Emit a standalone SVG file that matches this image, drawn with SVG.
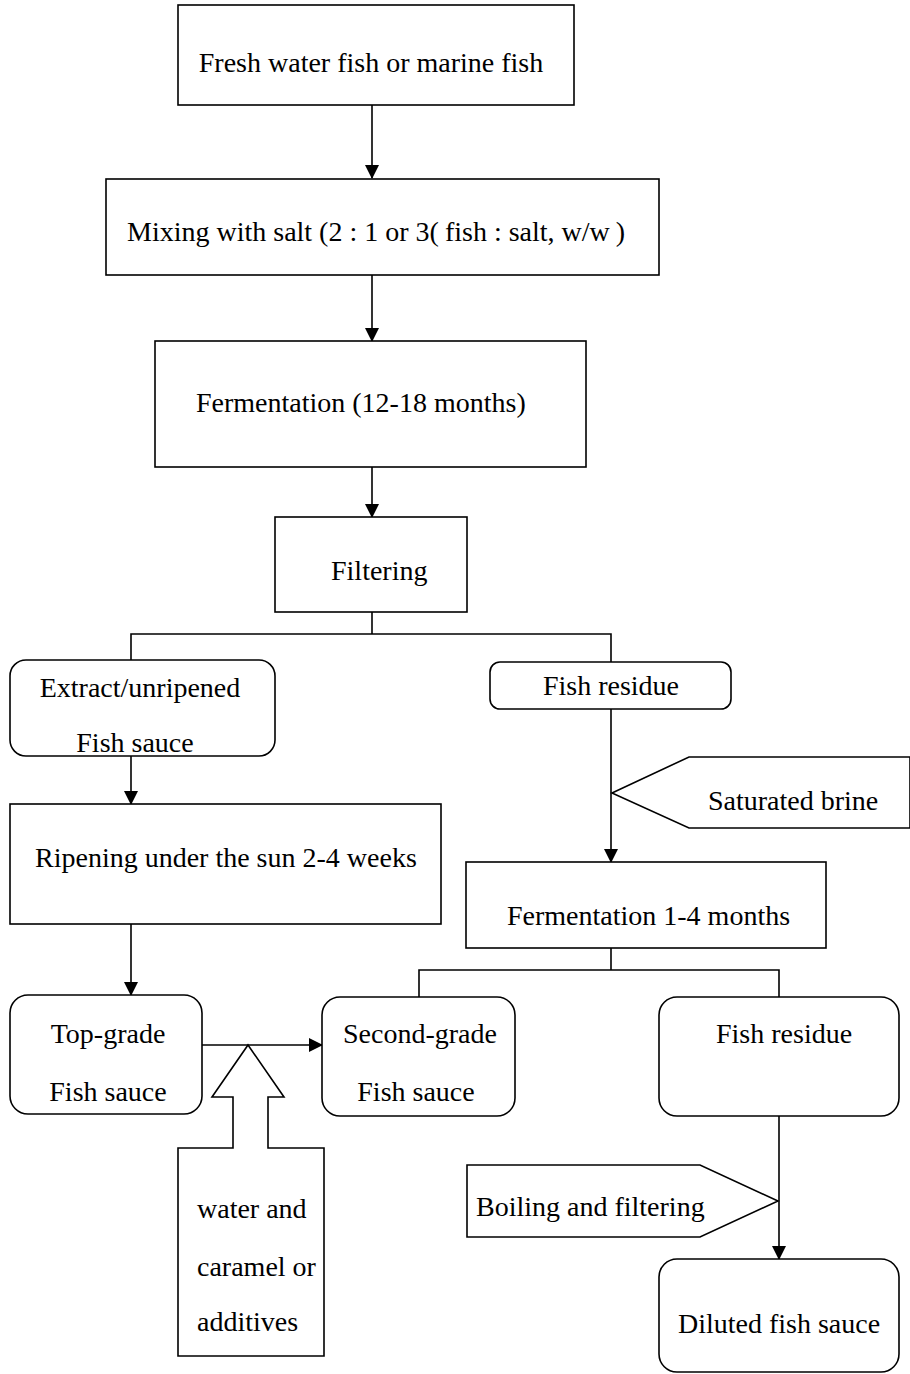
<svg xmlns="http://www.w3.org/2000/svg" width="910" height="1374" viewBox="0 0 910 1374">
<defs>
<marker id="ah" markerWidth="14" markerHeight="14" refX="13" refY="7" orient="auto" markerUnits="userSpaceOnUse">
<path d="M0,0 L14,7 L0,14 Z" fill="#000"/>
</marker>
</defs>
<style>
.b{fill:#fff;stroke:#000;stroke-width:1.6}
.c{fill:none;stroke:#000;stroke-width:1.6}
.m{text-anchor:middle}
</style>
<rect width="910" height="1374" fill="#fff"/>
<g id="connectors">
<line class="c" x1="372" y1="105" x2="372" y2="178" marker-end="url(#ah)"/>
<line class="c" x1="372" y1="275" x2="372" y2="341" marker-end="url(#ah)"/>
<line class="c" x1="372" y1="467" x2="372" y2="517" marker-end="url(#ah)"/>
<polyline class="c" points="372,612 372,634"/>
<polyline class="c" points="131,660 131,634 611,634 611,662"/>
<line class="c" x1="131" y1="756" x2="131" y2="804" marker-end="url(#ah)"/>
<line class="c" x1="131" y1="924" x2="131" y2="995" marker-end="url(#ah)"/>
<line class="c" x1="611" y1="709" x2="611" y2="862" marker-end="url(#ah)"/>
<polyline class="c" points="419,997 419,970 779,970 779,997"/>
<line class="c" x1="611" y1="948" x2="611" y2="970"/>
<line class="c" x1="202" y1="1045" x2="322" y2="1045" marker-end="url(#ah)"/>
<line class="c" x1="779" y1="1116" x2="779" y2="1259" marker-end="url(#ah)"/>
</g>
<g font-family="'Liberation Serif', 'Noto Sans CJK SC', serif" font-size="28" fill="#000">
<g id="n1"><rect class="b" x="178" y="5" width="396" height="100"/><text x="371" y="72" class="m">Fresh water fish or marine fish</text></g>
<g id="n2"><rect class="b" x="106" y="179" width="553" height="96"/><text x="127" y="241">Mixing with salt (2 : 1 or 3(<tspan dx="6">fish : salt, w/w</tspan><tspan dx="6">)</tspan></text></g>
<g id="n3"><rect class="b" x="155" y="341" width="431" height="126"/><text x="196" y="412">Fermentation (12-18 months)</text></g>
<g id="n4"><rect class="b" x="275" y="517" width="192" height="95"/><text x="331" y="580">Filtering</text></g>
<g id="n5"><rect class="b" x="10" y="660" width="265" height="96" rx="16"/><text x="140" y="697" class="m">Extract/unripened</text><text x="135" y="752" class="m">Fish sauce</text></g>
<g id="n6"><rect class="b" x="490" y="662" width="241" height="47" rx="10"/><text x="611" y="695" class="m">Fish residue</text></g>
<g id="n7"><polygon class="b" points="612,793 689,757 910,757 910,828 689,828"/><text x="708" y="810">Saturated brine</text></g>
<g id="n8"><rect class="b" x="466" y="862" width="360" height="86"/><text x="507" y="925">Fermentation 1-4 months</text></g>
<g id="n9"><rect class="b" x="10" y="804" width="431" height="120"/><text x="35" y="867">Ripening under the sun 2-4 weeks</text></g>
<g id="n10"><rect class="b" x="10" y="995" width="192" height="119" rx="18"/><text x="108" y="1043" class="m">Top-grade</text><text x="108" y="1101" class="m">Fish sauce</text></g>
<g id="n11"><rect class="b" x="322" y="997" width="193" height="119" rx="18"/><text x="420" y="1043" class="m">Second-grade</text><text x="416" y="1101" class="m">Fish sauce</text></g>
<g id="n12"><polygon class="b" points="248,1045 284,1097 268,1097 268,1148 324,1148 324,1356 178,1356 178,1148 233,1148 233,1097 212,1097"/><text x="197" y="1218">water and</text><text x="197" y="1276">caramel or</text><text x="197" y="1331">additives</text></g>
<g id="n13"><rect class="b" x="659" y="997" width="240" height="119" rx="18"/><text x="716" y="1043">Fish residue</text></g>
<g id="n14"><polygon class="b" points="467,1165 700,1165 778,1201 700,1237 467,1237"/><text x="476" y="1216">Boiling and filtering</text></g>
<g id="n15"><rect class="b" x="659" y="1259" width="240" height="113" rx="18"/><text x="779" y="1333" class="m">Diluted fish sauce</text></g>
</g>
</svg>
